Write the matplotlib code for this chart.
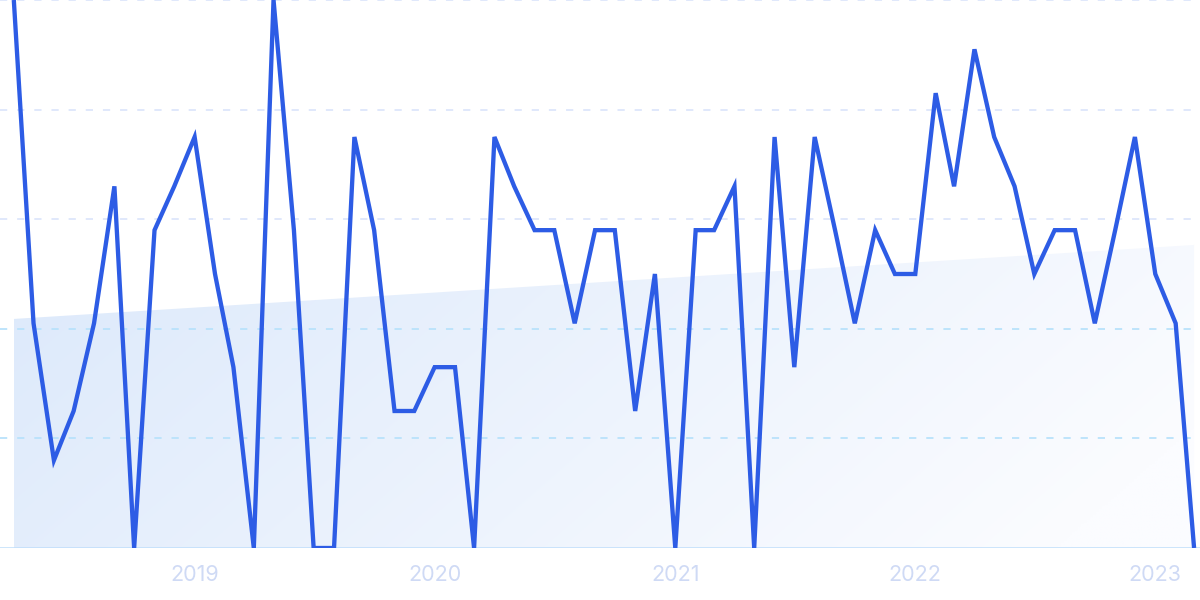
import matplotlib
matplotlib.use("Agg")
import matplotlib.pyplot as plt
import numpy as np
import pandas as pd

# monthly values, Apr 2018 .. Mar 2023
start_month = "2018-04-01"
values = [100, 41, 16, 25, 41, 66, 0, 58, 66, 75, 50, 33,
          0, 100, 58, 0, 0, 75, 58, 25, 25, 33, 33, 0,
          75, 66, 58, 58, 41, 58, 58, 25, 50, 0, 58, 58,
          66, 0, 75, 33, 75, 58, 41, 58, 50, 50, 83, 66,
          91, 75, 66, 50, 58, 58, 41, 58, 75, 50, 41, 0]
trend_ends = [41.8, 55.3]
year_labels = ["2019", "2020", "2021", "2022", "2023"]
grid_levels = [20, 40, 60, 80, 100]

months = pd.date_range(start_month, periods=len(values), freq="MS")
xnum = matplotlib.dates.date2num(months)

fig = plt.figure(figsize=(12, 6), dpi=100)
ax = fig.add_axes([0, 52 / 600, 1, 548 / 600])

x0 = xnum[0] - 21
x1 = xnum[-1] + 9
ax.set_xlim(x0, x1)
ax.set_ylim(0, 100)

# trend area with gradient fill
trend_x = [xnum[0], xnum[-1]]
poly = ax.fill_between(trend_x, trend_ends, 0, color="none", lw=0)
h, w = 200, 400
gx = np.linspace(0, 1, w)[None, :]
gy = np.linspace(0, 1, h)[:, None]
t = np.clip(0.85 * gx + 0.25 * gy, 0, 1)
c0 = np.array([0xdc, 0xe9, 0xfb]) / 255
c1 = np.array([0xfb, 0xfc, 0xff]) / 255
grad = c0[None, None, :] * (1 - t[..., None]) + c1[None, None, :] * t[..., None]
img = ax.imshow(grad, extent=[xnum[0], xnum[-1], 0, max(trend_ends)],
                aspect="auto", origin="upper", zorder=1)
img.set_clip_path(poly.get_paths()[0], transform=ax.transData)

# grid lines
for lv in grid_levels:
    col = "#b9e2fb" if lv <= 40 else "#dde6fb"
    ax.axhline(lv, color=col, lw=1.3, dashes=(4, 5.5), zorder=2, clip_on=False)
ax.axhline(0, color="#bfdefb", lw=1.8, zorder=2)

ax.plot(months, values, color="#2d5ce5", lw=3.1, zorder=3,
        solid_joinstyle="miter", solid_capstyle="butt")

ticks = pd.to_datetime([y + "-01-01" for y in year_labels])
ax.set_xticks(matplotlib.dates.date2num(ticks))
ax.set_xticklabels(year_labels, fontfamily="Inter", fontsize=15.5, color="#cfdaf5")
ax.tick_params(axis="x", length=0, pad=12)
ax.set_yticks([])
for s in ax.spines.values():
    s.set_visible(False)

fig.savefig("out.png", dpi=100)
